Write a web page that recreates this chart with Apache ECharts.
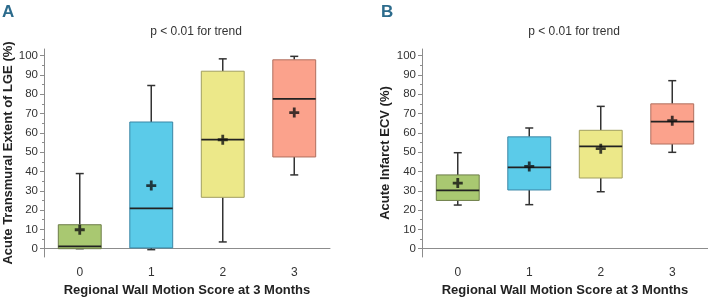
<!DOCTYPE html>
<html>
<head>
<meta charset="utf-8">
<script src="https://cdn.jsdelivr.net/npm/echarts@6/dist/echarts.min.js"></script>
<style>
  html, body { margin: 0; padding: 0; background: #fff; }
  #chart { width: 708px; height: 302px; }
</style>
</head>
<body>
<div id="chart"></div>
<script>
const categories = ["0", "1", "2", "3"]
const yTicks = [0, 10, 20, 30, 40, 50, 60, 70, 80, 90, 100]
const yMinorTicks = [5, 15, 25, 35, 45, 55, 65, 75, 85, 95]

// panel A: acute transmural extent of LGE (%)
const lgeMin = [0, -0.5, 3.5, 38.2]
const lgeQ1 = [0, 0.4, 26.6, 47.5]
const lgeMedian = [1.2, 20.9, 56.5, 77.6]
const lgeQ3 = [12.4, 65.6, 91.9, 97.8]
const lgeMax = [38.9, 84.5, 98.3, 99.6]
const lgeMean = [9.8, 32.7, 56.4, 70.5]

// panel B: acute infarct ECV (%)
const ecvMin = [22.6, 22.8, 29.5, 49.9]
const ecvQ1 = [25.0, 30.4, 36.6, 54.2]
const ecvMedian = [30.2, 42.1, 53.0, 65.8]
const ecvQ3 = [38.2, 57.9, 61.3, 75.0]
const ecvMax = [49.7, 62.5, 73.7, 87.0]
const ecvMean = [34.0, 42.6, 51.8, 66.3]

const boxFills = ["#a9c871", "#5bcbe9", "#ece889", "#fba28c"]
const boxBorders = ["#6d7d48", "#3b87a6", "#a29f60", "#b06f5e"]
const ink = "#333"
const axisGrey = "#8c8c8c"
const font = "'Liberation Sans', Arial, Helvetica, sans-serif"
const plusPath = "path://M3.6,0H6.4V3.6H10V6.4H6.4V10H3.6V6.4H0V3.6H3.6Z"

function boxRows(min, q1, med, q3, max) {
  return categories.map((_, i) => [i, min[i], q1[i], med[i], q3[i], max[i]])
}

function renderBox(params, api) {
  const i = api.value(0)
  const pMin = api.coord([i, api.value(1)])
  const pQ1 = api.coord([i, api.value(2)])
  const pMed = api.coord([i, api.value(3)])
  const pQ3 = api.coord([i, api.value(4)])
  const pMax = api.coord([i, api.value(5)])
  const halfBox = api.size([1, 0])[0] * 0.3
  const halfCap = 4
  const cx = pMed[0]
  const stroke = { stroke: ink, lineWidth: 1.5 }

  return {
    type: "group",
    children: [
      { type: "line", shape: { x1: cx, y1: pQ3[1], x2: cx, y2: pMax[1] }, style: stroke },
      { type: "line", shape: { x1: cx - halfCap, y1: pMax[1], x2: cx + halfCap, y2: pMax[1] }, style: stroke },
      { type: "line", shape: { x1: cx, y1: pQ1[1], x2: cx, y2: pMin[1] }, style: stroke },
      { type: "line", shape: { x1: cx - halfCap, y1: pMin[1], x2: cx + halfCap, y2: pMin[1] }, style: stroke },
      {
        type: "rect",
        shape: { x: cx - halfBox, y: pQ3[1], width: halfBox * 2, height: pQ1[1] - pQ3[1] },
        style: { fill: boxFills[i], stroke: boxBorders[i], lineWidth: 1 }
      },
      { type: "line", shape: { x1: cx - halfBox, y1: pMed[1], x2: cx + halfBox, y2: pMed[1] }, style: { stroke: "#222", lineWidth: 1.6 } }
    ]
  }
}

function valueAxis(gridIndex, name, nameGap) {
  return {
    type: "value",
    gridIndex,
    position: "left",
    min: -4.3,
    max: 103.4,
    name,
    nameLocation: "middle",
    nameGap,
    nameTextStyle: { fontSize: 13, fontWeight: "bold", color: "#222", fontFamily: font },
    axisLine: { show: true, lineStyle: { color: axisGrey, width: 1 } },
    axisTick: { show: true, customValues: yTicks, length: 4, lineStyle: { color: axisGrey } },
    axisLabel: { customValues: yTicks, fontSize: 11.5, color: ink, margin: 6, fontFamily: font },
    splitLine: { show: false }
  }
}

function minorAxis(gridIndex) {
  return {
    type: "value",
    gridIndex,
    position: "left",
    min: -4.3,
    max: 103.4,
    axisLine: { show: false },
    axisTick: { show: true, customValues: yMinorTicks, length: 2, lineStyle: { color: axisGrey } },
    axisLabel: { show: false },
    splitLine: { show: false }
  }
}

function categoryAxis(gridIndex) {
  return {
    type: "category",
    gridIndex,
    data: categories,
    name: "Regional Wall Motion Score at 3 Months",
    nameLocation: "middle",
    nameGap: 27,
    nameTextStyle: { fontSize: 13, fontWeight: "bold", color: "#222", fontFamily: font },
    axisLine: { lineStyle: { color: axisGrey, width: 1 } },
    axisTick: { alignWithLabel: true, length: 4, lineStyle: { color: axisGrey } },
    axisLabel: { fontSize: 12, color: ink, margin: 10, fontFamily: font }
  }
}

function meanSeries(axisIndex, means) {
  return {
    type: "scatter",
    xAxisIndex: axisIndex,
    yAxisIndex: axisIndex * 2,
    data: means.map((m, i) => [i, m]),
    symbol: plusPath,
    symbolSize: 10,
    itemStyle: { color: "#111" },
    z: 5,
    silent: true
  }
}

const chart = echarts.init(document.getElementById("chart"), null, { renderer: "canvas" })

chart.setOption({
  animation: false,
  textStyle: { fontFamily: font },
  title: [
    { text: "A", left: 2, top: 4, padding: 0, textStyle: { fontSize: 17, fontWeight: "bold", color: "#2c6b8c", fontFamily: font } },
    { text: "B", left: 381, top: 4, padding: 0, textStyle: { fontSize: 17, fontWeight: "bold", color: "#2c6b8c", fontFamily: font } },
    { text: "p < 0.01 for trend", left: 196, top: 26, padding: 0, textAlign: "center", textStyle: { fontSize: 12, fontWeight: "normal", color: ink, fontFamily: font } },
    { text: "p < 0.01 for trend", left: 574, top: 26, padding: 0, textAlign: "center", textStyle: { fontSize: 12, fontWeight: "normal", color: ink, fontFamily: font } }
  ],
  grid: [
    { left: 44, top: 49, width: 286, height: 208, containLabel: false },
    { left: 422, top: 49, width: 286, height: 208, containLabel: false }
  ],
  xAxis: [categoryAxis(0), categoryAxis(1)],
  yAxis: [
    valueAxis(0, "Acute Transmural Extent of LGE (%)", 28),
    minorAxis(0),
    valueAxis(1, "Acute Infarct ECV (%)", 30),
    minorAxis(1)
  ],
  series: [
    {
      type: "custom",
      xAxisIndex: 0,
      yAxisIndex: 0,
      renderItem: renderBox,
      encode: { x: 0, y: [1, 2, 3, 4, 5] },
      data: boxRows(lgeMin, lgeQ1, lgeMedian, lgeQ3, lgeMax),
      silent: true
    },
    meanSeries(0, lgeMean),
    {
      type: "custom",
      xAxisIndex: 1,
      yAxisIndex: 2,
      renderItem: renderBox,
      encode: { x: 0, y: [1, 2, 3, 4, 5] },
      data: boxRows(ecvMin, ecvQ1, ecvMedian, ecvQ3, ecvMax),
      silent: true
    },
    meanSeries(1, ecvMean)
  ]
})
</script>
</body>
</html>
